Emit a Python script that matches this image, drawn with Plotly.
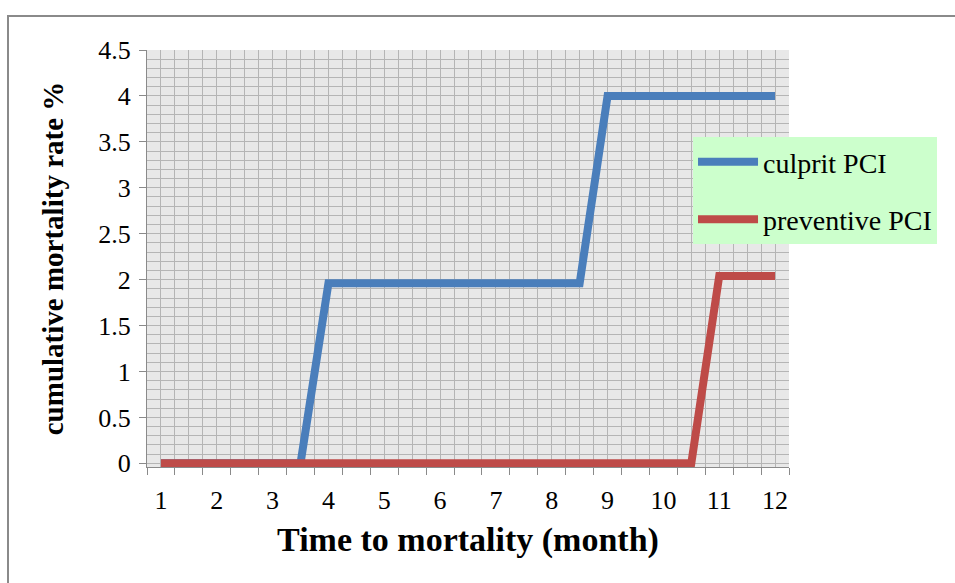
import plotly.graph_objects as go

# Data
months = [1, 3.5, 4, 8.5, 9, 12]
culprit_pci = [0, 0, 1.96, 1.96, 4, 4]
months_prev = [1, 10.5, 11, 12]
preventive_pci = [0, 0, 2.04, 2.04]
x_tick_vals = list(range(1, 13))
x_tick_text = [str(v) for v in x_tick_vals]

BLUE = "#4a7ebb"
RED = "#be4b48"
GRID = "#b5b5b5"
AXIS = "#8a8a8a"
SERIF = "Liberation Serif"

fig = go.Figure()
fig.add_trace(go.Scatter(
    x=months, y=culprit_pci, mode="lines", name="culprit PCI",
    line=dict(color=BLUE, width=8), legendgroup="a",
    xaxis="x", yaxis="y"))
fig.add_trace(go.Scatter(
    x=months_prev, y=preventive_pci, mode="lines", name="preventive PCI",
    line=dict(color=RED, width=8), legendgroup="b",
    xaxis="x2", yaxis="y"))

XR = [0.75, 12.25]
YR = [-0.04, 4.5]

fig.update_layout(
    width=955, height=583,
    margin=dict(l=147, r=166, t=50, b=116),
    paper_bgcolor="white",
    plot_bgcolor="#e8e8e8",
    font=dict(family=SERIF, color="black"),
    xaxis=dict(
        range=XR, tickmode="array", tickvals=x_tick_vals, ticktext=x_tick_text,
        ticks="", showgrid=True, gridcolor=GRID, gridwidth=1,
        minor=dict(tick0=0.75, dtick=0.25, showgrid=True, gridcolor=GRID, gridwidth=1, ticks=""),
        showline=True, linecolor=AXIS, linewidth=1, zeroline=False,
        tickfont=dict(family=SERIF, size=26, color="black"),
        ticklabelstandoff=10,
        title=dict(text="<b>Time to mortality (month)</b>",
                   font=dict(family=SERIF, size=34, color="black"), standoff=12),
    ),
    xaxis2=dict(
        range=XR, overlaying="x", anchor="y", side="bottom",
        tickmode="linear", tick0=0.75, dtick=0.5,
        ticks="outside", ticklen=7, tickcolor=AXIS, tickwidth=1,
        showticklabels=False, showgrid=False, zeroline=False, showline=False,
    ),
    yaxis=dict(
        range=YR, tickmode="linear", tick0=0, dtick=0.5,
        ticks="outside", ticklen=7, tickcolor=AXIS, tickwidth=1,
        showgrid=True, gridcolor=GRID, gridwidth=1,
        minor=dict(tick0=0, dtick=0.1, showgrid=True, gridcolor=GRID, gridwidth=1, ticks=""),
        showline=True, linecolor=AXIS, linewidth=1, zeroline=False,
        tickfont=dict(family=SERIF, size=26, color="black"),
        ticklabelstandoff=3,
        title=dict(text="<b>cumulative mortality rate %</b>",
                   font=dict(family=SERIF, size=29, color="black"), standoff=26),
    ),
    legend=dict(
        x=0.8505, y=0.791, xanchor="left", yanchor="top",
        bgcolor="#ccffcc", borderwidth=0,
        font=dict(family=SERIF, size=28, color="black"),
        itemwidth=60, traceorder="grouped", tracegroupgap=18,
    ),
    showlegend=True,
    shapes=[dict(type="rect", xref="paper", yref="paper",
                 x0=-0.2165, x1=1.3, y0=-0.35, y1=1.0816,
                 line=dict(color="#8a8a8a", width=2), fillcolor="rgba(0,0,0,0)",
                 layer="above")],
)

fig.write_html("out.html")
